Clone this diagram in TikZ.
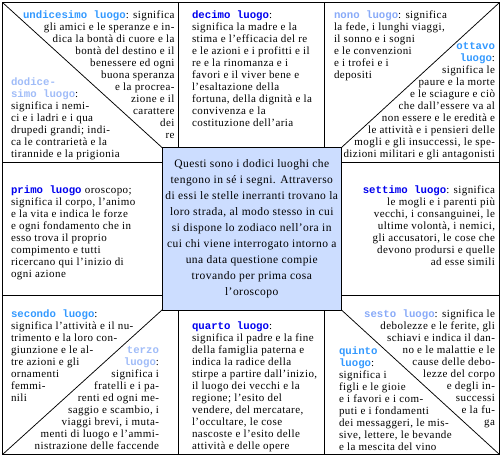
\documentclass[tikz,border=0pt]{standalone}
\usepackage{fontspec}
\setmainfont{Liberation Serif}[LetterSpace=4]
\newfontfamily\titolofont{Liberation Mono}
\usetikzlibrary{positioning,calc}
\definecolor{luogoBlu}{HTML}{0000EE}
\definecolor{luogoAzzurro}{HTML}{3399FF}
\definecolor{luogoCeleste}{HTML}{88AAF8}
\definecolor{luogoPallido}{HTML}{A0BCF8}
\definecolor{centroFill}{HTML}{CCDDFF}
\newcommand{\luogo}[2]{{\color{#1}\titolofont\bfseries\fontsize{10.7}{12}\selectfont #2}}

\begin{document}
\begin{tikzpicture}[x=1pt, y=-1pt,
    every node/.style={inner sep=0pt, outer sep=0pt},
    testo/.style={font=\fontsize{11}{12}\selectfont},
    casellaSx/.style={testo, align=left, anchor=north west},
    casellaDx/.style={testo, align=right, anchor=north east},
    linea/.style={line width=0.75pt},
  ]
  \useasboundingbox (0,0) rectangle (503,459);

  % Chart frame and central box
  \node[draw, line width=0.75pt, minimum width=497pt, minimum height=452pt,
        anchor=north west] (carta) at (2.5,2.5) {};
  \node[draw, line width=0.5pt, fill=centroFill, minimum width=179.5pt,
        minimum height=162.5pt, anchor=north west, align=center,
        font=\fontsize{11.5}{16}\selectfont] (centro) at (162,147.5)
    {Questi sono i dodici luoghi che\\tengono in sé i segni. Attraverso\\di essi le stelle inerranti trovano la\\loro strada, al modo stesso in cui\\si dispone lo zodiaco nell'ora in\\cui chi viene interrogato intorno a\\una data questione compie\\trovando per prima cosa\\l'oroscopo};

  % Dividers
  \coordinate (decimoSx) at (178,2.5);
  \coordinate (decimoDx) at (324,2.5);
  \coordinate (quartoSx) at (178,454.5);
  \coordinate (quartoDx) at (324,454.5);
  \coordinate (primoSu) at (2.5,162.5);
  \coordinate (primoGiu) at (2.5,295.5);

  \draw[linea] (decimoSx) -- (decimoSx |- centro.north);
  \draw[linea] (decimoDx) -- (decimoDx |- centro.north);
  \draw[linea] (quartoSx) -- (quartoSx |- centro.south);
  \draw[linea] (quartoDx) -- (quartoDx |- centro.south);
  \draw[linea] (primoSu) -- (primoSu -| centro.west);
  \draw[linea] (primoGiu) -- (primoGiu -| centro.west);
  \draw[linea] (primoSu -| centro.east) -- (primoSu -| carta.east);
  \draw[linea] (primoGiu -| centro.east) -- (primoGiu -| carta.east);
  \draw[linea] (carta.north west) -- (centro.north west);
  \draw[linea] (carta.north east) -- (centro.north east);
  \draw[linea] (carta.south west) -- (centro.south west);
  \draw[linea] (carta.south east) -- (centro.south east);

  % Top row
  \node[casellaDx] (undicesimo) at (174.5,10.5)
    {\luogo{luogoAzzurro}{undicesimo luogo}: significa\\gli amici e le speranze e in-\\dica la bontà di cuore e la\\bontà del destino e il\\benessere ed ogni\\buona speranza\\e la procrea-\\zione e il\\carattere\\dei\\re};
  \node[casellaSx] (dodicesimo) at (11,77.5)
    {\luogo{luogoPallido}{dodice-}\\\luogo{luogoPallido}{simo luogo}:\\significa i nemi-\\ci e i ladri e i qua\\drupedi grandi; indi-\\ca le contrarietà e la\\tirannide e la prigionia};
  \node[casellaSx] (decimo) at (192,10.5)
    {\luogo{luogoBlu}{decimo luogo}:\\significa la madre e la\\stima e l'efficacia del re\\e le azioni e i profitti e il\\re e la rinomanza e i\\favori e il viver bene e\\l'esaltazione della\\fortuna, della dignità e la\\convivenza e la\\costituzione dell'aria};
  \node[casellaSx] (nono) at (334,10.5)
    {\luogo{luogoCeleste}{nono luogo}: significa\\la fede, i lunghi viaggi,\\il sonno e i sogni\\e le convenzioni\\e i trofei e i\\depositi};
  \node[casellaDx] (ottavo) at (495,42.5)
    {\luogo{luogoAzzurro}{ottavo}\\\luogo{luogoAzzurro}{luogo}:\\significa le\\paure e la morte\\e le sciagure e ciò\\che dall'essere va al\\non essere e le eredità e\\le attività e i pensieri delle\\mogli e gli insuccessi, le spe-\\dizioni militari e gli antagonisti};

  % Middle row
  \node[casellaSx] (primo) at (11,185.5)
    {\luogo{luogoBlu}{primo luogo} oroscopo;\\significa il corpo, l'animo\\e la vita e indica le forze\\e ogni fondamento che in\\esso trova il proprio\\compimento e tutti\\ricercano qui l'inizio di\\ogni azione};
  \node[casellaDx] (settimo) at (495,185.5)
    {\luogo{luogoBlu}{settimo luogo}: significa\\le mogli e i parenti più\\vecchi, i consanguinei, le\\ultime volontà, i nemici,\\gli accusatori, le cose che\\devono prodursi e quelle\\ad esse simili};

  % Bottom row
  \node[casellaSx] (secondo) at (11,309.5)
    {\luogo{luogoAzzurro}{secondo luogo}:\\significa l'attività e il nu-\\trimento e la loro con-\\giunzione e le al-\\tre azioni e gli\\ornamenti\\femmi-\\nili};
  \node[casellaDx] (terzo) at (159,346.5)
    {\luogo{luogoPallido}{terzo}\\\luogo{luogoPallido}{luogo}:\\significa i\\fratelli e i pa-\\renti ed ogni me-\\saggio e scambio, i\\viaggi brevi, i muta-\\menti di luogo e l'ammi-\\nistrazione delle faccende};
  \node[casellaSx] (quarto) at (192,321.5)
    {\luogo{luogoBlu}{quarto luogo}:\\significa il padre e la fine\\della famiglia paterna e\\indica la radice della\\stirpe a partire dall'inizio,\\il luogo dei vecchi e la\\regione; l'esito del\\vendere, del mercatare,\\l'occultare, le cose\\nascoste e l'esito delle\\attività e delle opere};
  \node[casellaDx] (sesto) at (495,309.5)
    {\luogo{luogoCeleste}{sesto luogo}: significa le\\debolezze e le ferite, gli\\schiavi e indica il dan-\\no e le malattie e le\\cause delle debo-\\lezze del corpo\\e degli in-\\successi\\e la fu-\\ga};
  \node[casellaSx] (quinto) at (339,346.5)
    {\luogo{luogoAzzurro}{quinto}\\\luogo{luogoAzzurro}{luogo}:\\significa i\\figli e le gioie\\e i favori e i com-\\puti e i fondamenti\\dei messaggeri, le mis-\\sive, lettere, le bevande\\e la mescita del vino};
\end{tikzpicture}
\end{document}
